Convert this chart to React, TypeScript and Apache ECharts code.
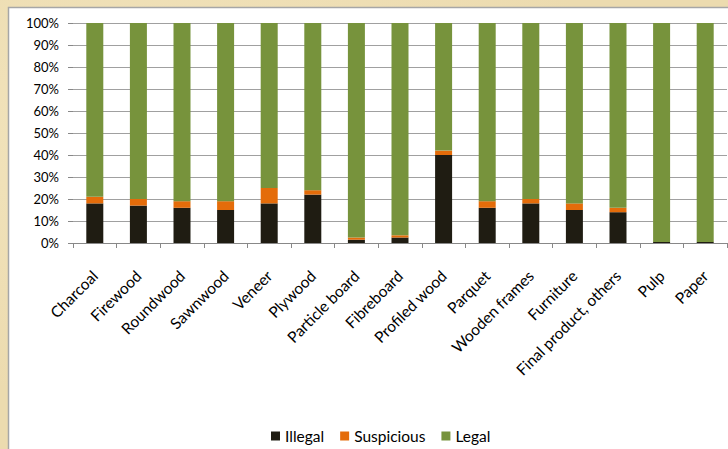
import React, { useEffect, useRef } from "react";
import * as echarts from "echarts";

const categories = [
  "Charcoal", "Firewood", "Roundwood", "Sawnwood", "Veneer", "Plywood",
  "Particle board", "Fibreboard", "Profiled wood", "Parquet", "Wooden frames",
  "Furniture", "Final product, others", "Pulp", "Paper",
];
const illegal = [18, 17, 16, 15, 18, 22, 1.5, 2.5, 40, 16, 18, 15, 14, 0.5, 0.5];
const suspicious = [3, 3, 3, 4, 7, 2, 1, 1, 2, 3, 2, 3, 2, 0, 0];
const legal = [79, 80, 81, 81, 75, 76, 97.5, 96.5, 58, 81, 80, 82, 84, 99.5, 99.5];
const yTicks = [0, 10, 20, 30, 40, 50, 60, 70, 80, 90, 100];

const FONT = "Lato, 'Open Sans', sans-serif";

export default function App() {
  const ref = useRef<HTMLDivElement>(null);
  useEffect(() => {
    if (!ref.current) return;
    const chart = echarts.init(ref.current, undefined, { renderer: "svg" });
    const mk = (name: string, data: number[], color: string) => ({
      name,
      type: "bar",
      stack: "total",
      data,
      barWidth: 17,
      itemStyle: { color },
    });
    chart.setOption({
      animation: false,
      backgroundColor: "transparent",
      textStyle: { fontFamily: FONT },
      graphic: [
        {
          type: "rect",
          shape: { x: 8.5, y: 7.5, width: 740, height: 460 },
          style: { fill: "#ffffff", stroke: "#a6a6a6", lineWidth: 1.5 },
          z: -10,
        },
      ],
      grid: { left: 73, right: 1, top: 23, bottom: 206, containLabel: false },
      legend: {
        data: ["Illegal", "Suspicious", "Legal"],
        left: 266,
        top: 423,
        itemWidth: 9,
        itemHeight: 9,
        itemGap: 16,
        icon: "rect",
        textStyle: { fontFamily: FONT, fontSize: 15.5, color: "#000" },
      },
      xAxis: {
        type: "category",
        data: categories,
        axisLine: { lineStyle: { color: "#888", width: 1 } },
        axisTick: { show: true, alignWithLabel: false, length: 5, lineStyle: { color: "#888" } },
        axisLabel: {
          rotate: 45,
          interval: 0,
          margin: 30,
          fontSize: 15.5,
          color: "#000",
          fontFamily: FONT,
        },
      },
      yAxis: {
        type: "value",
        min: 0,
        max: 100,
        interval: 10,
        axisLine: { show: false },
        axisTick: { show: true, length: 5, lineStyle: { color: "#888" } },
        splitLine: { lineStyle: { color: "#a0a0a0", width: 1 } },
        axisLabel: {
          formatter: (v: number) => (yTicks.includes(v) ? v + "%" : ""),
          fontSize: 13,
          color: "#000",
          margin: 14,
          fontFamily: FONT,
        },
      },
      series: [
        mk("Illegal", illegal, "#1f1c12"),
        mk("Suspicious", suspicious, "#e46c0a"),
        mk("Legal", legal, "#77933c"),
      ],
    });
    return () => chart.dispose();
  }, []);
  return (
    <div
      style={{
        position: "fixed",
        left: 0,
        top: 0,
        width: 728,
        height: 449,
        background:
          "radial-gradient(ellipse at 20% 30%, #f2e4bd 0%, rgba(0,0,0,0) 60%), radial-gradient(ellipse at 80% 70%, #e6d09c 0%, rgba(0,0,0,0) 60%), #ecdbaf",
      }}
    >
      <div ref={ref} style={{ width: 728, height: 449 }} />
    </div>
  );
}
